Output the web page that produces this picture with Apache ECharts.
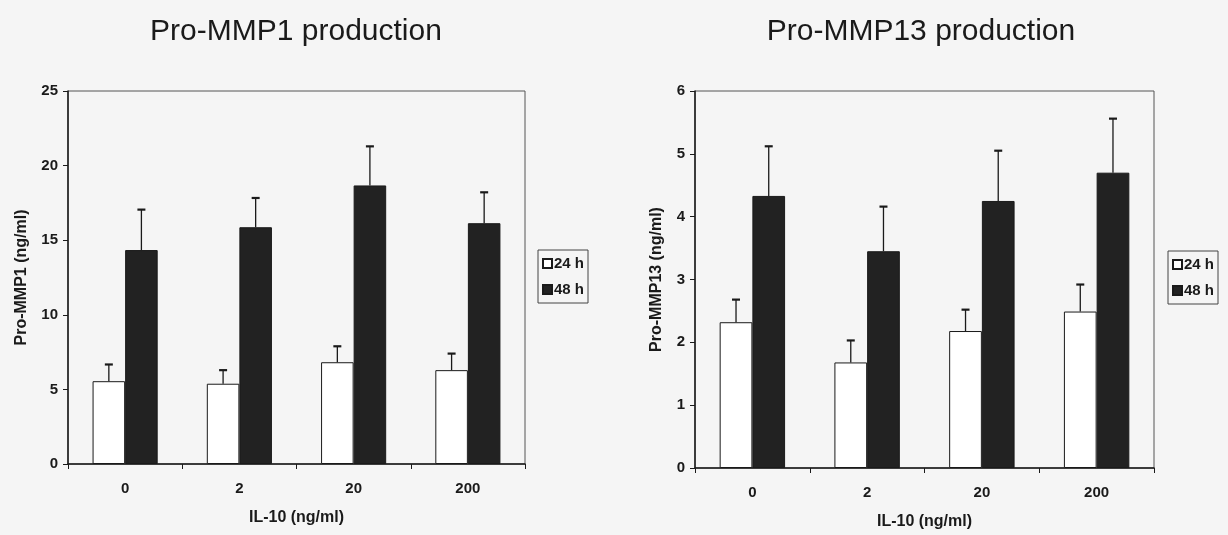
<!DOCTYPE html>
<html>
<head>
<meta charset="utf-8">
<script src="https://cdn.jsdelivr.net/npm/echarts@6/dist/echarts.min.js"></script>
<style>
  html, body { margin: 0; padding: 0; background: #f5f5f5; }
  #main { width: 1228px; height: 535px; }
</style>
</head>
<body>
<div id="main"></div>
<script>
var chart = echarts.init(document.getElementById('main'), null, { renderer: 'canvas' });

// IL-10 doses
var doses = ['0', '2', '20', '200'];
// Pro-MMP1 (ng/ml), mean and SD
var mmp1_24 = [5.55, 5.38, 6.82, 6.29];
var mmp1_24_sd = [1.12, 0.91, 1.07, 1.11];
var mmp1_48 = [14.34, 15.87, 18.67, 16.14];
var mmp1_48_sd = [2.71, 1.96, 2.62, 2.07];
// Pro-MMP13 (ng/ml), mean and SD
var mmp13_24 = [2.32, 1.68, 2.18, 2.49];
var mmp13_24_sd = [0.36, 0.35, 0.34, 0.43];
var mmp13_48 = [4.33, 3.45, 4.25, 4.70];
var mmp13_48_sd = [0.79, 0.71, 0.80, 0.86];

var font = 'Liberation Sans, Arial, sans-serif';
var ink = '#1a1a1a';
var gapPct = 43;

function xAx(gi) {
    return {
        type: 'category',
        gridIndex: gi,
        data: doses,
        name: 'IL-10 (ng/ml)',
        nameLocation: 'middle',
        nameGap: 46,
        nameTextStyle: { fontFamily: font, fontSize: 16, fontWeight: 'bold', color: ink },
        axisLine: { lineStyle: { color: ink, width: 1.5 } },
        axisTick: { show: true, length: 5, lineStyle: { color: ink } },
        axisLabel: { fontFamily: font, fontSize: 15, fontWeight: 'bold', color: ink, margin: 17 }
    };
}

function yAx(gi, max, interval, name, gap) {
    return {
        type: 'value',
        gridIndex: gi,
        min: 0,
        max: max,
        interval: interval,
        name: name,
        nameLocation: 'middle',
        nameGap: gap,
        nameTextStyle: { fontFamily: font, fontSize: 16, fontWeight: 'bold', color: ink },
        axisLine: { show: true, lineStyle: { color: ink, width: 1.5 } },
        axisTick: { show: true, length: 5, lineStyle: { color: ink } },
        axisLabel: { fontFamily: font, fontSize: 15, fontWeight: 'bold', color: ink, margin: 10 },
        splitLine: { show: false }
    };
}

function bars(name, gi, vals, fill) {
    return {
        name: name,
        type: 'bar',
        xAxisIndex: gi,
        yAxisIndex: gi,
        data: vals,
        barGap: '0%',
        barCategoryGap: gapPct + '%',
        itemStyle: { color: fill, borderColor: ink, borderWidth: 1 },
        z: 2
    };
}

// upward-only error bars sitting on top of each bar
function errs(name, gi, vals, sd, side) {
    return {
        name: name,
        type: 'custom',
        xAxisIndex: gi,
        yAxisIndex: gi,
        data: vals.map(function (v, i) { return [i, v, v + sd[i]]; }),
        z: 3,
        silent: true,
        renderItem: function (params, api) {
            var band = api.size([1, 0])[0];
            var bw = band * (1 - gapPct / 100) / 2;
            var base = api.coord([api.value(0), api.value(1)]);
            var top = api.coord([api.value(0), api.value(2)]);
            var x = base[0] + side * bw / 2;
            return {
                type: 'group',
                children: [
                    { type: 'line', shape: { x1: x, y1: base[1], x2: x, y2: top[1] },
                      style: { stroke: ink, lineWidth: 1.3 } },
                    { type: 'line', shape: { x1: x - 4, y1: top[1], x2: x + 4, y2: top[1] },
                      style: { stroke: ink, lineWidth: 2.2 } }
                ]
            };
        }
    };
}

function legendAt(left, top) {
    return {
        orient: 'vertical',
        left: left,
        top: top,
        data: ['24 h', '48 h'],
        icon: 'rect',
        itemWidth: 9,
        itemHeight: 9,
        itemGap: 11,
        padding: [6, 4, 6, 4],
        borderColor: '#444',
        borderWidth: 1,
        textStyle: { fontFamily: font, fontSize: 15, fontWeight: 'bold', color: ink, padding: [0, 0, 0, -3] }
    };
}

var option = {
    backgroundColor: '#f5f5f5',
    animation: false,
    title: [
        { text: 'Pro-MMP1 production', left: 291, top: 12, textAlign: 'center',
          textStyle: { fontFamily: font, fontSize: 30, fontWeight: 'normal', color: ink } },
        { text: 'Pro-MMP13 production', left: 916, top: 12, textAlign: 'center',
          textStyle: { fontFamily: font, fontSize: 30, fontWeight: 'normal', color: ink } }
    ],
    legend: [legendAt(538, 250), legendAt(1168, 251)],
    grid: [
        { left: 68, top: 91, width: 457, height: 373, show: true, borderColor: '#555', borderWidth: 1 },
        { left: 695, top: 91, width: 459, height: 377, show: true, borderColor: '#555', borderWidth: 1 }
    ],
    xAxis: [xAx(0), xAx(1)],
    yAxis: [
        yAx(0, 25, 5, 'Pro-MMP1 (ng/ml)', 38),
        yAx(1, 6, 1, 'Pro-MMP13 (ng/ml)', 30)
    ],
    series: [
        bars('24 h', 0, mmp1_24, '#ffffff'),
        bars('48 h', 0, mmp1_48, '#222222'),
        errs('24 h', 0, mmp1_24, mmp1_24_sd, -1),
        errs('48 h', 0, mmp1_48, mmp1_48_sd, 1),
        bars('24 h', 1, mmp13_24, '#ffffff'),
        bars('48 h', 1, mmp13_48, '#222222'),
        errs('24 h', 1, mmp13_24, mmp13_24_sd, -1),
        errs('48 h', 1, mmp13_48, mmp13_48_sd, 1)
    ]
};

chart.setOption(option);
window.addEventListener('resize', chart.resize);
</script>
</body>
</html>
